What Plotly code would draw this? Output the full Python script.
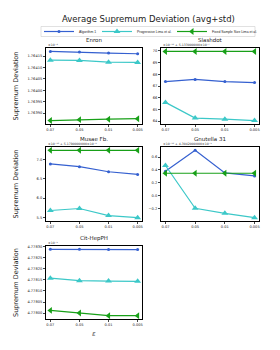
import plotly.graph_objects as go

W, H = 280, 350

eps_labels = ["0.07", "0.05", "0.01", "0.005"]
series_names = ["Algorithm 1", "Progressive Lima et al.", "Fixed Sample Size Lima et al."]

# values in the units shown on each axis (offset text is shown separately)
enron_alg = [1.764170, 1.764168, 1.764163, 1.764160]
enron_prog = [1.764132, 1.764131, 1.764123, 1.764122]
enron_fixed = [1.763868, 1.763872, 1.763874, 1.763876]

slash_alg = [67.38, 67.56, 67.38, 67.29]
slash_prog = [65.60, 64.26, 64.17, 64.05]
slash_fixed = [69.95, 69.95, 69.95, 69.95]

musae_alg = [6.886, 6.816, 6.684, 6.614]
musae_prog = [5.675, 5.728, 5.544, 5.490]
musae_fixed = [7.24, 7.24, 7.24, 7.24]

gnut_alg = [0.379, 0.705, 0.353, 0.305]
gnut_prog = [0.468, -0.200, -0.279, -0.347]
gnut_fixed = [0.347, 0.347, 0.347, 0.347]

cit_alg = [4.778289, 4.778289, 4.778288, 4.778288]
cit_prog = [4.778158, 4.778147, 4.778145, 4.778144]
cit_fixed = [4.778012, 4.778000, 4.777988, 4.777988]

panels = [
    ("Enron", "×10⁻⁴", [enron_alg, enron_prog, enron_fixed],
     [1.76390, 1.76395, 1.76400, 1.76405, 1.76410, 1.76415], ".5f"),
    ("Slashdot", "×10⁻¹² + 5.133000000×10⁻⁷", [slash_alg, slash_prog, slash_fixed],
     [64, 65, 66, 67, 68, 69, 70], ".0f"),
    ("Musae Fb.", "×10⁻¹⁰ + 5.1790000000×10⁻⁶", [musae_alg, musae_prog, musae_fixed],
     [5.5, 6.0, 6.5, 7.0], ".1f"),
    ("Gnutella 31", "×10⁻¹² + 4.3042000000×10⁻⁵", [gnut_alg, gnut_prog, gnut_fixed],
     [-0.2, 0.0, 0.2, 0.4, 0.6], ".1f"),
    ("Cit-HepPH", "×10⁻⁵", [cit_alg, cit_prog, cit_fixed],
     [4.77800, 4.77805, 4.77810, 4.77815, 4.77820, 4.77825, 4.77830], ".5f"),
]

colors = ["#3560d0", "#3cc8c8", "#18a018"]
symbols = ["circle", "triangle-up", "triangle-left"]
msizes = [3, 6, 6]
legend_widths = [13, 30, 40]

# layout positions in pixels (left, right, top, bottom)
boxes = [
    (38, 134, 40, 116),
    (153, 251, 40, 116),
    (38, 134, 139, 213),
    (153, 251, 139, 213),
    (38, 134, 238, 311),
]

FONT = "DejaVu Sans"
LFONT = "Liberation Sans Narrow, Liberation Sans, DejaVu Sans"
fig = go.Figure()
layout = dict(
    width=W, height=H, margin=dict(l=0, r=0, t=0, b=0, autoexpand=False),
    paper_bgcolor="white", plot_bgcolor="white",
    font=dict(family=FONT, color="#222"),
    showlegend=True,
    legend=dict(orientation="h", x=0.5, xanchor="center", y=1 - 23.5 / H, yanchor="middle",
                font=dict(size=3.4, family=LFONT), bgcolor="rgba(0,0,0,0)", borderwidth=0,
                itemwidth=30, tracegroupgap=0),
    shapes=[dict(type="rect", xref="paper", yref="paper", x0=33 / W, x1=247 / W,
                 y0=1 - 28.5 / H, y1=1 - 18.5 / H, line=dict(color="#cccccc", width=0.6),
                 fillcolor="rgba(0,0,0,0)", layer="below")],
)
annotations = [dict(text="Average Supremum Deviation (avg+std)", x=0.5, y=1 - 11 / H,
                    xref="paper", yref="paper", showarrow=False, xanchor="center",
                    yanchor="middle", font=dict(size=8.5, family=FONT, color="#222"))]

for i, (title, offset, data, ticks, fmt) in enumerate(panels):
    l, r, t, b = boxes[i]
    n = i + 1
    xa = "xaxis" if n == 1 else f"xaxis{n}"
    ya = "yaxis" if n == 1 else f"yaxis{n}"
    xr = "x" if n == 1 else f"x{n}"
    yr = "y" if n == 1 else f"y{n}"
    allv = [v for s in data for v in s]
    lo, hi = min(allv), max(allv)
    pad = (hi - lo) * 0.05
    layout[xa] = dict(domain=[l / W, r / W], anchor=yr, type="category", automargin=False,
                      range=[-0.15, 3.15], showline=True, mirror=True, linecolor="black",
                      linewidth=1, ticks="outside", ticklen=2, tickwidth=0.6,
                      tickfont=dict(size=3.6, family=FONT), showgrid=False, zeroline=False)
    layout[ya] = dict(domain=[1 - b / H, 1 - t / H], anchor=xr, range=[lo - pad, hi + pad],
                      automargin=False,
                      tickvals=ticks, ticktext=[format(v, fmt).replace("-", "−") for v in ticks],
                      showline=True, mirror=True, linecolor="black", linewidth=1,
                      ticks="outside", ticklen=2, tickwidth=0.6,
                      tickfont=dict(size=3.6, family=FONT), showgrid=False, zeroline=False)
    if i % 2 == 0:
        annotations.append(dict(text="Supremum Deviation", x=7.5 / W, y=1 - (t + b) / 2 / H,
                                xref="paper", yref="paper", showarrow=False, textangle=-90,
                                xanchor="center", yanchor="middle",
                                font=dict(size=6.5, family=FONT, color="#222")))
    for k in range(3):
        fig.add_trace(go.Scatter(
            x=eps_labels, y=data[k], mode="lines+markers", name=series_names[k],
            legendgroup=series_names[k], showlegend=(i == 0), legendwidth=legend_widths[k],
            line=dict(color=colors[k], width=1.2),
            marker=dict(symbol=symbols[k], size=msizes[k], color=colors[k]),
            xaxis=xr, yaxis=yr))
    annotations.append(dict(text=title, x=(l + r) / 2 / W, y=1 - (t - 8) / H, xref="paper",
                            yref="paper", showarrow=False, xanchor="center", yanchor="middle",
                            font=dict(size=5.5, family=FONT, color="#222")))
    annotations.append(dict(text=offset, x=l / W, y=1 - (t - 3) / H, xref="paper",
                            yref="paper", showarrow=False, xanchor="left", yanchor="middle",
                            font=dict(size=3.2, family=FONT, color="#333")))

annotations.append(dict(text="<i>ε</i>", x=86 / W, y=1 - 326 / H, xref="paper", yref="paper",
                        showarrow=False, xanchor="center", yanchor="middle",
                        font=dict(size=7, family=FONT, color="#555")))
layout["annotations"] = annotations
fig.update_layout(**layout)
fig.write_html("out.html")
